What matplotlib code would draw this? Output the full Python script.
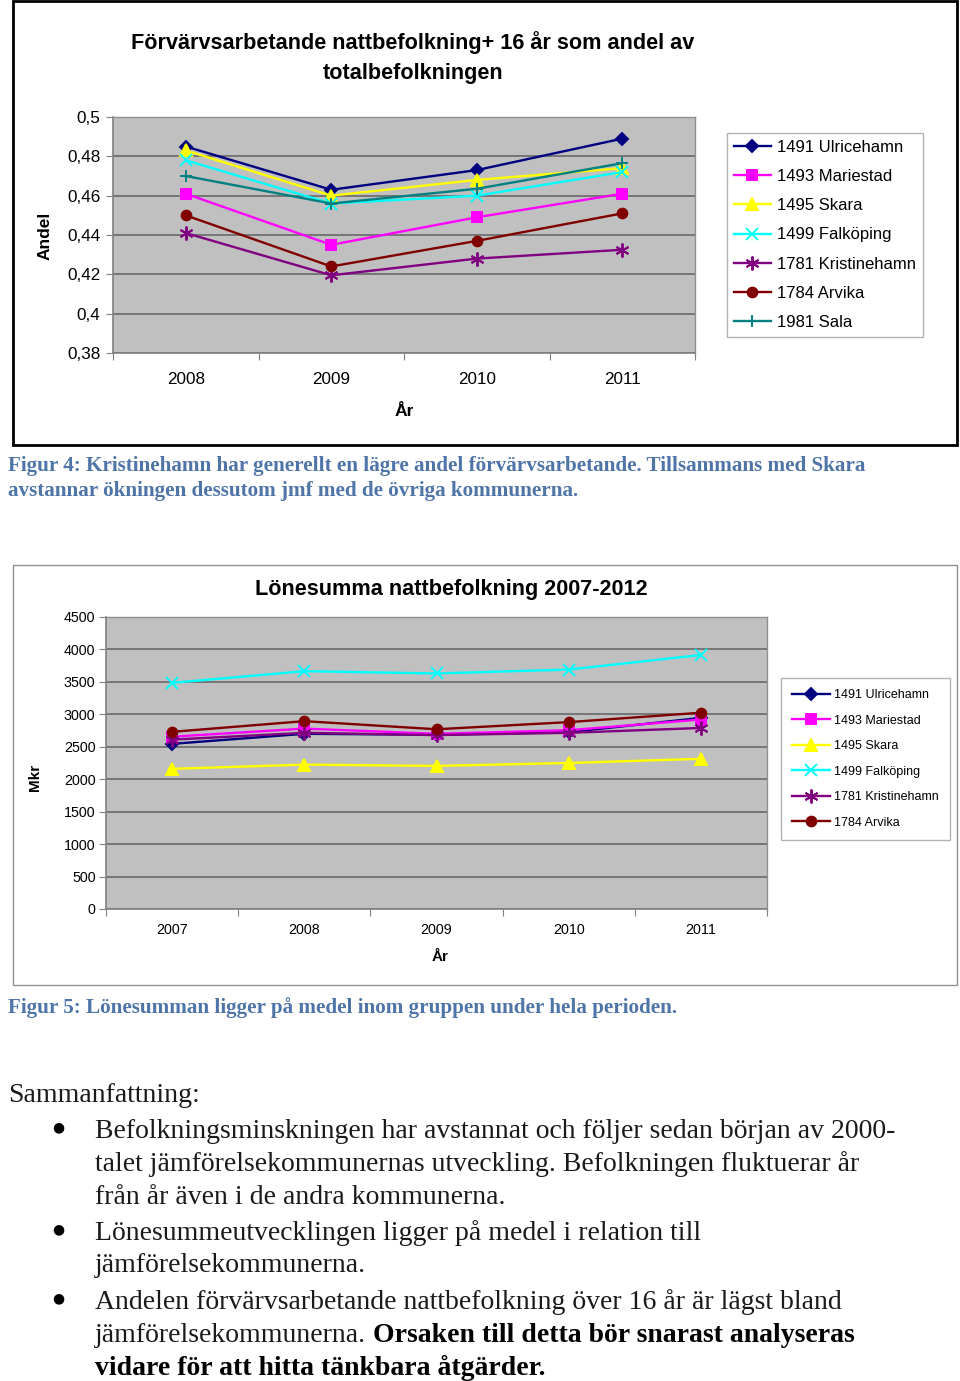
import matplotlib.pyplot as plt
from matplotlib.patches import Rectangle
from matplotlib.ticker import FixedLocator, NullFormatter

W, H = 960, 1381

# chart 1: share employed night population 16+ of total population
years1 = ['2008', '2009', '2010', '2011']
ulricehamn1 = [0.485, 0.463, 0.473, 0.489]
mariestad1 = [0.461, 0.435, 0.449, 0.461]
skara1 = [0.483, 0.460, 0.468, 0.474]
falkoping1 = [0.478, 0.456, 0.460, 0.472]
kristinehamn1 = [0.441, 0.4195, 0.428, 0.4325]
arvika1 = [0.450, 0.424, 0.437, 0.451]
sala1 = [0.470, 0.456, 0.4635, 0.4765]

# chart 2: wage sum (Mkr)
years2 = ['2007', '2008', '2009', '2010', '2011']
ulricehamn2 = [2545, 2700, 2685, 2725, 2945]
mariestad2 = [2655, 2780, 2700, 2755, 2920]
skara2 = [2160, 2225, 2205, 2250, 2315]
falkoping2 = [3485, 3665, 3630, 3690, 3915]
kristinehamn2 = [2610, 2715, 2680, 2715, 2790]
arvika2 = [2730, 2895, 2770, 2880, 3025]

labels1 = ['1491 Ulricehamn', '1493 Mariestad', '1495 Skara', '1499 Falköping',
           '1781 Kristinehamn', '1784 Arvika', '1981 Sala']
labels2 = labels1[:6]

styles = [('#000080', 'D', 6), ('#FF00FF', 's', 7), ('#FFFF00', '^', 8),
          ('#00FFFF', 'x', 8), ('#800080', (6, 2, 0), 10), ('#800000', 'o', 7),
          ('#008080', '+', 9)]


def px_rect(x0, y0, x1, y1):
    return [x0 / W, 1 - y1 / H, (x1 - x0) / W, (y1 - y0) / H]


def fx(x):
    return x / W


def fy(y):
    return 1 - y / H


def style_axes(ax, ncat, fs, xpad, ypad):
    ax.set_facecolor('#C0C0C0')
    ax.set_xlim(-0.5, ncat - 0.5)
    ax.xaxis.set_major_locator(FixedLocator(range(ncat)))
    ax.xaxis.set_minor_locator(FixedLocator([i - 0.5 for i in range(ncat + 1)]))
    ax.xaxis.set_minor_formatter(NullFormatter())
    ax.tick_params(axis='x', which='major', length=0, pad=xpad, labelsize=fs)
    ax.tick_params(axis='x', which='minor', length=5, width=0.8, color='#808080')
    ax.tick_params(axis='y', length=5, width=0.8, color='#808080', labelsize=fs, pad=ypad)
    ax.grid(axis='y', color='#707070', lw=1.3)
    ax.set_axisbelow(True)
    for s in ['top', 'right']:
        ax.spines[s].set_color('#909090')
        ax.spines[s].set_linewidth(1)
    for s in ['left', 'bottom']:
        ax.spines[s].set_color('#808080')
        ax.spines[s].set_linewidth(1.2)


plt.rcParams['font.family'] = ['Liberation Sans', 'DejaVu Sans']
fig = plt.figure(figsize=(W / 100, H / 100), dpi=100)

# outer frames
fig.patches.append(Rectangle((fx(13), fy(445)), fx(957) - fx(13), fy(1) - fy(445),
                             transform=fig.transFigure, fill=False, ec='black', lw=2))
fig.patches.append(Rectangle((fx(13), fy(985)), fx(957) - fx(13), fy(565) - fy(985),
                             transform=fig.transFigure, fill=False, ec='#909090', lw=1))

# ---- chart 1
ax1 = fig.add_axes(px_rect(113, 117, 695, 353))
style_axes(ax1, 4, 12.3, 14, 4)
series1 = [ulricehamn1, mariestad1, skara1, falkoping1, kristinehamn1, arvika1, sala1]
for vals, lab, (c, m, ms) in zip(series1, labels1, styles):
    ax1.plot(range(4), vals, color=c, marker=m, ms=ms, lw=1.7, mew=1.4,
             mec=c, mfc=c, label=lab)
ax1.set_ylim(0.38, 0.5)
yt1 = [0.38, 0.40, 0.42, 0.44, 0.46, 0.48, 0.50]
ax1.set_yticks(yt1)
ax1.set_yticklabels(['0,38', '0,4', '0,42', '0,44', '0,46', '0,48', '0,5'])
ax1.set_xticks(range(4))
ax1.set_xticklabels(years1)
fig.text(fx(413), fy(57.5), 'Förvärvsarbetande nattbefolkning+ 16 år som andel av\ntotalbefolkningen',
         ha='center', va='center', fontsize=15.6, fontweight='bold', linespacing=1.55)
fig.text(fx(45), fy(236), 'Andel', rotation=90, ha='center', va='center',
         fontsize=12.5, fontweight='bold')
fig.text(fx(404), fy(411), 'År', ha='center', va='center', fontsize=12.5, fontweight='bold')
leg1 = ax1.legend(loc='upper left', bbox_to_anchor=(fx(727), fy(133)),
                  bbox_transform=fig.transFigure, fontsize=12, frameon=True,
                  fancybox=False, edgecolor='#A0A0A0', labelspacing=0.85,
                  handlelength=2.2, handletextpad=0.4, borderpad=0.42, borderaxespad=0)
leg1.get_frame().set_linewidth(1)

# ---- chart 2
ax2 = fig.add_axes(px_rect(106, 617, 767, 909))
style_axes(ax2, 5, 10.3, 10, 2.5)
series2 = [ulricehamn2, mariestad2, skara2, falkoping2, kristinehamn2, arvika2]
for vals, lab, (c, m, ms) in zip(series2, labels2, styles[:6]):
    ax2.plot(range(5), vals, color=c, marker=m, ms=ms, lw=1.7, mew=1.4,
             mec=c, mfc=c, label=lab)
ax2.set_ylim(0, 4500)
ax2.set_yticks(range(0, 4501, 500))
ax2.set_xticks(range(5))
ax2.set_xticklabels(years2)
fig.text(fx(451), fy(589), 'Lönesumma nattbefolkning 2007-2012', ha='center', va='center',
         fontsize=15.6, fontweight='bold')
fig.text(fx(35), fy(777), 'Mkr', rotation=90, ha='center', va='center',
         fontsize=11, fontweight='bold')
fig.text(fx(440), fy(957), 'År', ha='center', va='center', fontsize=11, fontweight='bold')
leg2 = ax2.legend(loc='upper left', bbox_to_anchor=(fx(781), fy(678)),
                  bbox_transform=fig.transFigure, fontsize=9, frameon=True,
                  fancybox=False, edgecolor='#A0A0A0', labelspacing=1.08,
                  handlelength=3.0, handletextpad=0.3, borderpad=0.9, borderaxespad=0)
leg2.get_frame().set_linewidth(1)

# ---- captions and body text
cap_color = '#4F74A8'
serif = ['Liberation Serif', 'DejaVu Serif']
cap_fs = 15.2
fig.text(fx(8), fy(466), 'Figur 4: Kristinehamn har generellt en lägre andel förvärvsarbetande. '
         'Tillsammans med Skara', ha='left', va='center', fontsize=cap_fs, fontweight='bold',
         color=cap_color, family=serif)
fig.text(fx(8), fy(491), 'avstannar ökningen dessutom jmf med de övriga kommunerna.',
         ha='left', va='center', fontsize=cap_fs, fontweight='bold', color=cap_color, family=serif)
fig.text(fx(8), fy(1008), 'Figur 5: Lönesumman ligger på medel inom gruppen under hela perioden.',
         ha='left', va='center', fontsize=cap_fs, fontweight='bold', color=cap_color, family=serif)

body_fs = 20
body_color = '#1A1A1A'
dy = 3
fig.text(fx(8), fy(1092 + dy), 'Sammanfattning:', ha='left', va='center', fontsize=body_fs,
         color=body_color, family=serif)
lines = [
    (1128, 'Befolkningsminskningen har avstannat och följer sedan början av 2000-', True),
    (1161, 'talet jämförelsekommunernas utveckling. Befolkningen fluktuerar år', False),
    (1194, 'från år även i de andra kommunerna.', False),
    (1230, 'Lönesummeutvecklingen ligger på medel i relation till', True),
    (1263, 'jämförelsekommunerna.', False),
    (1299, 'Andelen förvärvsarbetande nattbefolkning över 16 år är lägst bland', True),
]
for y, txt, bullet in lines:
    if bullet:
        fig.text(fx(58), fy(y - 1), '●', ha='center', va='center', fontsize=10,
                 color='black', family=['DejaVu Sans'])
    fig.text(fx(95), fy(y + dy), txt, ha='left', va='center', fontsize=body_fs,
             color=body_color, family=serif)

t = fig.text(fx(95), fy(1332 + dy), 'jämförelsekommunerna. ', ha='left', va='center',
             fontsize=body_fs, color=body_color, family=serif)
fig.canvas.draw()
bb = t.get_window_extent()
fig.text(bb.x1 / W, fy(1332 + dy), 'Orsaken till detta bör snarast analyseras', ha='left',
         va='center', fontsize=body_fs, fontweight='bold', color='black', family=serif)
fig.text(fx(95), fy(1365 + dy), 'vidare för att hitta tänkbara åtgärder.', ha='left', va='center',
         fontsize=body_fs, fontweight='bold', color='black', family=serif)

fig.savefig('out.png', dpi=100)
